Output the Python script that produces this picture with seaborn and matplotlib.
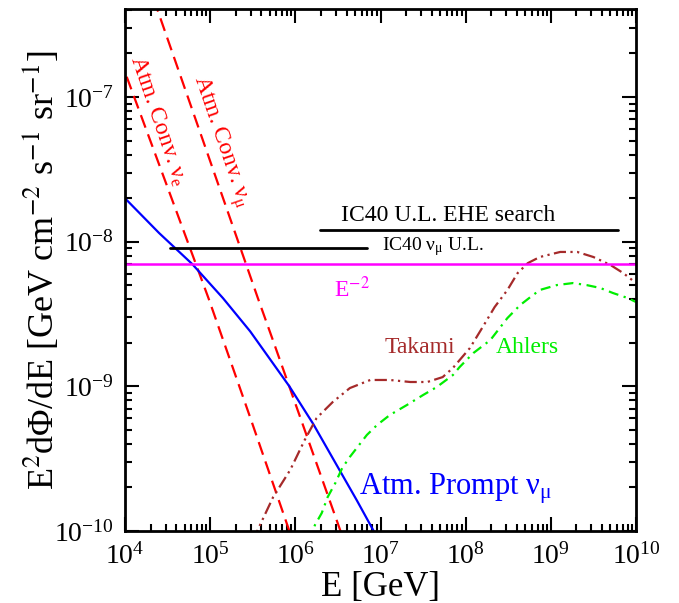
import numpy as np
import pandas as pd
import matplotlib
matplotlib.use("Agg")
import matplotlib.pyplot as plt
import seaborn as sns

# ---- data (log10 E [GeV], log10 E^2 dPhi/dE) ----
conv_nue_logE = [4.02, 4.98, 5.47, 5.93, 6.00]
conv_nue_logF = [-6.86, -8.39, -9.215, -10.00, -10.12]

conv_numu_logE = [4.30, 5.56, 5.73, 6.53, 6.60]
conv_numu_logF = [-6.26, -8.39, -8.67, -10.00, -10.12]

prompt_logE = [4.00, 4.40, 4.79, 5.15, 5.47, 5.70, 5.93, 6.21, 6.52, 6.72, 6.92]
prompt_logF = [-7.70, -7.94, -8.155, -8.39, -8.62, -8.81, -9.00, -9.26, -9.58, -9.786, -10.00]

takami_logE = [5.50, 5.56, 5.74, 5.94, 6.11, 6.25, 6.44, 6.64, 6.88, 7.11, 7.35, 7.55,
               7.73, 7.85, 8.05, 8.20, 8.34, 8.49, 8.61, 8.73, 8.87, 9.11, 9.31, 9.50,
               9.70, 9.85, 10.0]
takami_logF = [-10.07, -9.99, -9.765, -9.578, -9.371, -9.219, -9.108, -9.012, -8.956,
               -8.956, -8.97, -8.97, -8.936, -8.873, -8.735, -8.59, -8.452, -8.334,
               -8.217, -8.148, -8.106, -8.071, -8.071, -8.106, -8.161, -8.217, -8.286]

ahlers_logE = [6.17, 6.23, 6.31, 6.38, 6.47, 6.55, 6.64, 6.84, 6.96, 7.11, 7.31, 7.50,
               7.66, 7.85, 7.93, 8.09, 8.29, 8.49, 8.64, 8.76, 8.87, 9.07, 9.26, 9.42,
               9.58, 9.73, 9.90, 10.0]
ahlers_logF = [-10.07, -9.959, -9.876, -9.765, -9.668, -9.565, -9.488, -9.336, -9.267,
               -9.198, -9.129, -9.06, -9.005, -8.922, -8.866, -8.77, -8.68, -8.528,
               -8.438, -8.383, -8.334, -8.30, -8.286, -8.30, -8.32, -8.355, -8.389, -8.417]

e2_E = [1e4, 1e10]
e2_F = [7.0e-9, 7.0e-9]

ic40_numu_E = [3.4e4, 6.9e6]
ic40_numu_F = [9.0e-9, 9.0e-9]

ic40_ehe_E = [1.95e6, 6.2e9]
ic40_ehe_F = [1.2e-8, 1.2e-8]

# ---- style ----
sns.set_style("ticks")
plt.rcParams["font.family"] = ["Liberation Serif", "DejaVu Serif"]
plt.rcParams["mathtext.fontset"] = "stix"
plt.rcParams["axes.unicode_minus"] = False
for k in ["text.color", "axes.labelcolor", "xtick.color", "ytick.color", "axes.edgecolor"]:
    plt.rcParams[k] = "black"

fig = plt.figure(figsize=(6.79, 6.03), dpi=100)
ax = fig.add_axes([125 / 679, 72 / 603, 511 / 679, 522 / 603])
ax.set_xscale("log")
ax.set_yscale("log")


def draw(E, F, **kw):
    df = pd.DataFrame({"E": np.asarray(E, float), "F": np.asarray(F, float)})
    sns.lineplot(data=df, x="E", y="F", ax=ax, sort=False, estimator=None, **kw)


def draw_log(lE, lF, **kw):
    draw(10 ** np.asarray(lE), 10 ** np.asarray(lF), **kw)


red = "#ff0000"
draw_log(conv_nue_logE, conv_nue_logF, color=red, lw=1.6, linestyle=(0, (6.0, 3.2)))
draw_log(conv_numu_logE, conv_numu_logF, color=red, lw=1.6, linestyle=(0, (6.0, 3.2)))
draw_log(prompt_logE, prompt_logF, color="#0000ff", lw=1.6)
draw_log(takami_logE, takami_logF, color="#a52a2a", lw=1.6,
         linestyle=(0, (5.5, 2.0, 1.0, 2.0, 1.0, 2.0)))
draw_log(ahlers_logE, ahlers_logF, color="#00ee00", lw=1.6,
         linestyle=(0, (4.5, 2.5, 1.0, 2.5)))
draw(e2_E, e2_F, color="#ff00ff", lw=1.8)
draw(ic40_numu_E, ic40_numu_F, color="black", lw=2.0)
draw(ic40_ehe_E, ic40_ehe_F, color="black", lw=2.0)

ax.set_xlim(1e4, 1e10)
ax.set_ylim(1e-10, 4.06e-7)

for s in ax.spines.values():
    s.set_linewidth(2.0)
ax.tick_params(which="both", direction="in", top=True, right=True, labelsize=20)
ax.tick_params(which="major", length=10, width=1.5, pad=8)
ax.tick_params(which="minor", length=5, width=1.5)
ax.tick_params(axis="x", which="major", pad=9)
ax.xaxis.set_major_locator(matplotlib.ticker.LogLocator(base=10, numticks=20))
ax.xaxis.set_minor_locator(matplotlib.ticker.LogLocator(base=10, subs=np.arange(2, 10), numticks=20))

ax.set_xlabel("E [GeV]", fontsize=25, labelpad=1)
ax.set_ylabel(r"E$^2$d$\mathregular{\Phi}$/dE [GeV cm$^{-2}$ s$^{-1}$ sr$^{-1}$]", fontsize=26)
ax.yaxis.set_label_coords(-0.125, 0.5)

# ---- annotations ----
ax.text(10 ** 4.39, 10 ** -7.166, r"Atm. Conv. $\mathregular{\nu_e}$", color=red, fontsize=17,
        rotation=-71, ha="center", va="center", rotation_mode="anchor")
ax.text(10 ** 5.115, 10 ** -7.311, r"Atm. Conv. $\mathregular{\nu_\mu}$", color=red, fontsize=17,
        rotation=-71, ha="center", va="center", rotation_mode="anchor")
ax.text(10 ** 7.79, 10 ** -7.857, "IC40 U.L. EHE search", fontsize=17, ha="center", va="baseline")
ax.text(10 ** 7.61, 10 ** -8.058, r"IC40 $\mathregular{\nu_\mu}$ U.L.", fontsize=14, ha="center", va="baseline")
ax.text(10 ** 6.665, 10 ** -8.383, r"E$^{-2}$", color="#ff00ff", fontsize=17, ha="center", va="baseline")
ax.text(10 ** 7.464, 10 ** -8.77, "Takami", color="#a52a2a", fontsize=17, ha="center", va="baseline")
ax.text(10 ** 8.72, 10 ** -8.77, "Ahlers", color="#00ee00", fontsize=17, ha="center", va="baseline")
ax.text(10 ** 7.88, 10 ** -9.751, r"Atm. Prompt $\mathregular{\nu_\mu}$", color="#0000ff", fontsize=22,
        ha="center", va="baseline")

fig.savefig("out.png", dpi=100)
